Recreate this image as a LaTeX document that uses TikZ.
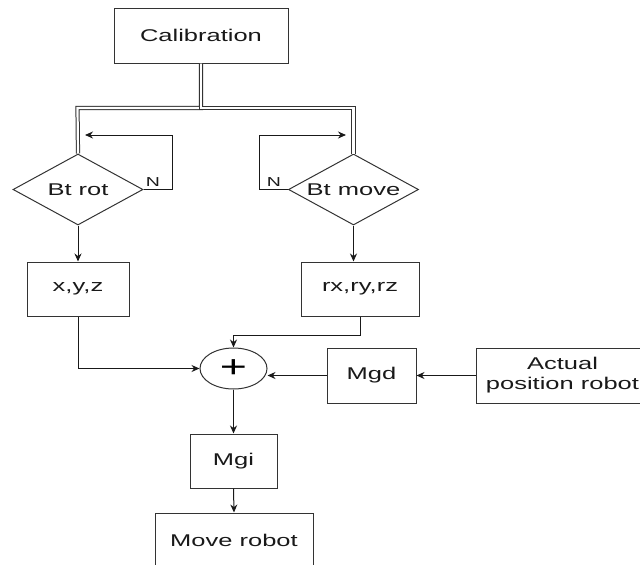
\documentclass[tikz,border=0pt]{standalone}
\usepackage{fontspec}
\setmainfont{Liberation Sans}
\usetikzlibrary{arrows.meta,shapes.geometric}
\newcommand\colorLine{black!80}
\newcommand\colorText{black!90}
\newcommand\textStretch{1.5}
\newcommand\wtext[1]{\scalebox{\textStretch}[1]{#1}}
\newcommand\dtext[1]{\makebox[0pt]{\wtext{#1}}}
\tikzset{
	block/.style={draw=\colorLine, line width=1pt, minimum width=#1, minimum height=54pt,
		inner sep=0pt, text=\colorText, font=\fontsize{17}{20}\selectfont},
	block/.default=100pt,
	decision/.style={diamond, draw=\colorLine, line width=1pt, minimum width=130pt,
		minimum height=71pt, inner sep=0pt, text=\colorText, font=\fontsize{17}{20}\selectfont},
	sumnode/.style={ellipse, draw=\colorLine, line width=1pt, minimum width=67pt,
		minimum height=41pt, inner sep=0pt, font=\fontsize{31}{31}\selectfont},
	nlabel/.style={text=\colorText, font=\fontsize{13}{13}\selectfont},
	flow/.style={draw=black!90, line width=1pt, -{Stealth[length=8pt,width=7pt]}},
	split/.style={draw=\colorLine, double, double distance=2.2pt, line width=1pt},
}

\begin{document}
\begin{tikzpicture}[x=1pt,y=-1pt]
	\useasboundingbox (0,0) rectangle (640,565);
	
	\node[block=174pt, minimum height=55pt] (cal) at (201,35.5) {\wtext{Calibration}};
	\node[decision] (rot) at (78,189.5) {\dtext{Bt rot}};
	\node[decision] (move) at (353.5,189.5) {\dtext{Bt move}};
	\node[block=102pt] (xyz) at (78,289) {\wtext{x,y,z}};
	\node[block=118pt] (rxyz) at (360,289) {\wtext{rx,ry,rz}};
	\node[sumnode] (sum) at (233.5,368.5) {\wtext{+}};
	\node[block=89pt, minimum height=55pt] (mgd) at (371.5,375.5) {\wtext{Mgd}};
	\node[block=173pt, minimum height=55pt, align=center] (act) at (562.5,375.5)
		{\wtext{Actual}\\\wtext{position robot}};
	\node[block=87pt] (mgi) at (233.5,461) {\wtext{Mgi}};
	\node[block=158pt] (mov) at (234,540) {\wtext{Move robot}};
	
	% split from calibration
	\coordinate (splitL) at (77.5,108);
	\coordinate (splitR) at (353.5,108);
	\draw[split] (cal.south) |- (splitL) -- (rot.north);
	\draw[split] (cal.south) |- (splitR) -- (move.north);
	
	% N loops
	\coordinate (rotUp) at (172,135);
	\coordinate (rotBack) at (85,135);
	\coordinate (moveUp) at (259,135);
	\coordinate (moveBack) at (346,135);
	\draw[flow] (rot.east) -| (rotUp) -- (rotBack);
	\draw[flow] (move.west) -| (moveUp) -- (moveBack);
	\node[nlabel] (rotN) at (153,182) {\wtext{N}};
	\node[nlabel] (moveN) at (274,182) {\wtext{N}};
	
	\draw[flow] (rot.south) -- (xyz.north);
	\draw[flow] (move.south) -- (move.south |- rxyz.north);
	\draw[flow] (xyz.south) |- (sum.west);
	\draw[flow] (rxyz.south) -- ++(0,19) -| (sum.north);
	\draw[flow] (act.west) -- (mgd.east);
	\draw[flow] (mgd.west) -- (mgd.west -| sum.east);
	\draw[flow] (sum.south) -- (mgi.north);
	\draw[flow] (mgi.south) -- (mov.north);
\end{tikzpicture}
\end{document}
